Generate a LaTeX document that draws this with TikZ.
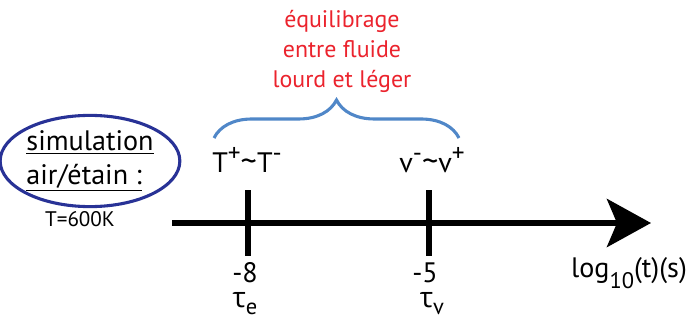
\documentclass[tikz,border=0pt]{standalone}
\usepackage{fontspec}
\setmainfont{PT Sans}
\newfontfamily\grk{Open Sans}
\usepackage{tikz}
\usetikzlibrary{arrows.meta,positioning,shapes.geometric,decorations.pathreplacing}
\usepackage{xcolor}
\definecolor{bracecol}{RGB}{80,135,200}
\definecolor{ovalcol}{RGB}{40,50,150}
\definecolor{notecol}{RGB}{235,35,45}
\newcommand{\hi}[1]{\raisebox{0.4em}{\fontsize{18}{18}\selectfont #1}}
\newcommand{\lo}[1]{\raisebox{-0.25em}{\fontsize{16}{16}\selectfont #1}}
\newcommand{\tld}{{\fontsize{23}{23}\selectfont\textasciitilde}}

\begin{document}
\begin{tikzpicture}[
      x=0.025cm, y=-0.025cm,
      lbl/.style={font=\fontsize{20}{24}\selectfont, inner sep=0pt, anchor=base},
      note/.style={font=\fontsize{17}{21.3}\selectfont, text=notecol, align=center, inner sep=0pt},
      tick/.style={fill=black, inner sep=0pt, minimum width=0.13cm, minimum height=1.65cm},
      axis/.style={-{Stealth[length=1.1cm, width=1.2cm, inset=0.25cm]}, line width=0.15cm},
    ]
    \useasboundingbox (0,0) rectangle (689,321);
    % time axis
    \coordinate (start) at (172,223);
    \coordinate (tip) at (651,223);
    \draw[axis] (start) -- (tip);
    \node[tick] (t8) at (248,223) {};
    \node[tick] (t5) at (429,223) {};
    % tick labels
    \node[lbl] (m8) at (245,282) {-8};
    \node[lbl] (taue) at (245,307) {{\grk\smash{τ}}\lo{e}};
    \node[lbl] (m5) at (425,282) {-5};
    \node[lbl] (tauv) at (432,307) {{\grk\smash{τ}}\lo{v}};
    \node[lbl] (unit) at (629,277) {log\raisebox{-0.4em}{\fontsize{16}{16}\selectfont 10}(t)(s)};
    % ratios
    \node[lbl] (tt) at (247,173) {T\hi{+}\tld T\hi{-}};
    \node[lbl] (vv) at (432,173) {v\hi{-}\tld v\hi{+}};
    % brace and note
    \coordinate (brl) at (214,138);
    \coordinate (brr) at (459,138);
    \draw[bracecol, line width=2.2pt, decorate,
          decoration={brace, amplitude=0.95cm}] (brl) -- (brr);
    \node[note] (eq) at (342,51) {équilibrage\\entre fluide\\lourd et léger};
    % simulation label
    \node[draw=ovalcol, line width=2.2pt, ellipse, minimum width=3.9cm,
          minimum height=2.28cm, inner sep=0pt,
          font=\fontsize{20}{24}\selectfont, align=left] (sim) at (90,161)
          {\underline{simulation}\\\underline{air/étain :}};
    \node[font=\fontsize{15}{18}\selectfont, inner sep=0pt, anchor=base] (temp) at (80,226) {T=600K};
  \end{tikzpicture}
\end{document}
